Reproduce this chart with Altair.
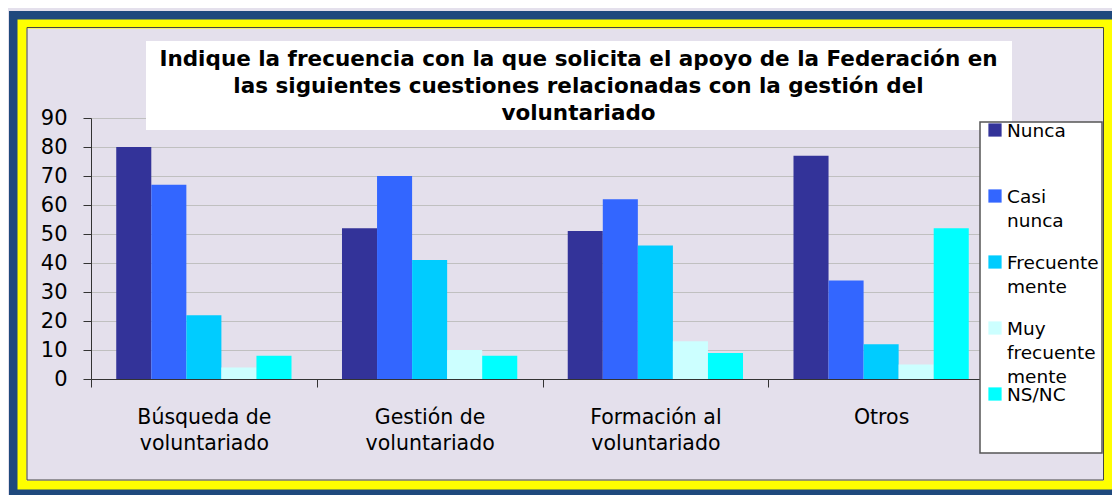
import altair as alt
import pandas as pd

categories = ["Búsqueda de\nvoluntariado", "Gestión de\nvoluntariado", "Formación al\nvoluntariado", "Otros"]
series = ["Nunca", "Casi\nnunca", "Frecuente\nmente", "Muy\nfrecuente\nmente", "NS/NC"]
nunca = [80, 52, 51, 77]
casi_nunca = [67, 70, 62, 34]
frecuentemente = [22, 41, 46, 12]
muy_frecuentemente = [4, 10, 13, 5]
ns_nc = [8, 8, 9, 52]
colors = ["#333399", "#3366FF", "#00CCFF", "#CCFFFF", "#00FFFF"]
title_lines = [
    "Indique la frecuencia con la que solicita el apoyo de la Federación en",
    "las siguientes cuestiones relacionadas con la gestión del",
    "voluntariado",
]

rows = []
for s, vals in zip(series, [nunca, casi_nunca, frecuentemente, muy_frecuentemente, ns_nc]):
    for c, v in zip(categories, vals):
        rows.append({"categoria": c, "serie": s, "valor": v})
df = pd.DataFrame(rows)
legend_df = pd.DataFrame({"serie": series})

W, H = 903, 261
PAD_L, PAD_T = 83, 110
TOTAL_W, TOTAL_H = 1104, 487

one = pd.DataFrame({"k": [0]})


def box(x, y, x2, y2, **mark):
    return alt.Chart(one).mark_rect(**mark).encode(
        x=alt.value(x), x2=alt.value(x2), y=alt.value(y), y2=alt.value(y2)
    )


blue = box(-77.5, -102.5, 1025, 375.5, fillOpacity=0, stroke="#1F497D", strokeWidth=9)
yellow = box(-69, -94, 1017.5, 367, fillOpacity=0, stroke="#FFFF00", strokeWidth=9)
inner_line = box(-64, -90.5, 1012.5, 362, fillOpacity=0, stroke="#444444", strokeWidth=1)
title_box = box(55, -77, 921, 12, fill="white", strokeOpacity=0)
legend_box = box(889, 4, 1011, 335, fill="white", stroke="#555555", strokeWidth=1.5)

color_scale = alt.Scale(domain=series, range=colors)

bars = alt.Chart(df).mark_bar().encode(
    x=alt.X(
        "categoria:N",
        sort=categories,
        scale=alt.Scale(paddingInner=0, paddingOuter=0),
        axis=alt.Axis(
            title=None,
            labelAngle=0,
            labelExpr="split(datum.label, '\\n')",
            labelFont="DejaVu Sans",
            labelFontSize=20.5,
            labelLineHeight=26,
            labelColor="black",
            labelPadding=20,
            labelLimit=0,
            tickSize=8,
            tickBand="extent",
            tickColor="#333333",
            domainColor="#333333",
            grid=False,
        ),
    ),
    xOffset=alt.XOffset("serie:N", sort=series, scale=alt.Scale(paddingInner=0, paddingOuter=0.72)),
    y=alt.Y(
        "valor:Q",
        scale=alt.Scale(domain=[0, 90], nice=False),
        axis=alt.Axis(
            title=None,
            values=list(range(0, 91, 10)),
            labelFont="DejaVu Sans",
            labelFontSize=21,
            labelColor="black",
            labelPadding=16,
            tickSize=8,
            tickColor="#333333",
            domainColor="#333333",
            grid=True,
            gridColor="#C0C0C0",
        ),
    ),
    color=alt.Color("serie:N", sort=series, scale=color_scale, legend=None),
)

# legend entries, one row per series, spaced by a point scale
legend_y = alt.Y("serie:N", sort=series, axis=None, scale=alt.Scale(type="point", range=[12, 276], padding=0))

legend_swatches = alt.Chart(legend_df).mark_square(size=175, opacity=1).encode(
    x=alt.value(904),
    y=legend_y,
    color=alt.Color("serie:N", sort=series, scale=color_scale, legend=None),
)

legend_labels = alt.Chart(legend_df).mark_text(
    align="left",
    baseline="alphabetic",
    dy=7,
    lineBreak="\n",
    lineHeight=24,
    font="DejaVu Sans",
    fontSize=18.5,
    color="black",
).encode(
    x=alt.value(916),
    y=legend_y,
    text="serie:N",
)

legend_layer = alt.layer(legend_box, legend_swatches, legend_labels)

chart = (
    alt.layer(blue, yellow, inner_line, title_box, bars, legend_layer)
    .resolve_scale(y="independent")
    .properties(
        width=W,
        height=H,
        title=alt.TitleParams(
            text=title_lines,
            font="DejaVu Sans",
            fontSize=21.5,
            fontWeight="bold",
            color="black",
            lineHeight=27,
            anchor="middle",
            frame="group",
            dx=36,
            dy=113,
            offset=0,
        ),
        padding={"left": PAD_L, "top": PAD_T, "right": TOTAL_W - PAD_L - W, "bottom": TOTAL_H - PAD_T - H},
        autosize=alt.AutoSizeParams(type="none"),
        background="#E4E0EC",
    )
    .configure_view(strokeOpacity=0)
)

chart.save("out.html", embed_options={"renderer": "svg", "actions": False})
